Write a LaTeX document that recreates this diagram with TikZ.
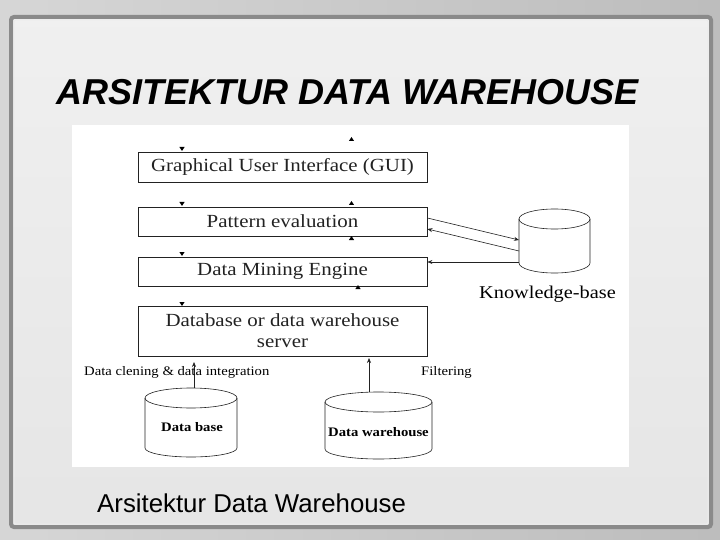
\documentclass[tikz,border=0pt]{standalone}
\usepackage{fontspec}
\setmainfont{Liberation Serif}
\newfontfamily\wideserif[FakeStretch=1.13]{Liberation Serif}
\newfontfamily\arial{Liberation Sans}
\usetikzlibrary{arrows.meta,calc}
\definecolor{bgout}{HTML}{C2C2C2}
\definecolor{panel}{HTML}{EAEAEA}
\definecolor{rim}{HTML}{8A8A8A}
\definecolor{ink}{HTML}{222222}
\tikzset{
  layer/.style={draw=ink, line width=0.8pt, minimum width=289pt, inner sep=0pt, align=center, text=ink},
  flow/.style={draw=ink, line width=0.6pt, -{Stealth[length=5pt,width=4pt]}},
  lbl/.style={inner sep=0pt, text=black},
  cyl/.style={draw=ink, line width=0.6pt}
}
\newcommand{\upTip}[2]{\fill (#1,#2) -- ++(-2.6,4) -- ++(5.2,0) -- cycle;}
\newcommand{\downTip}[2]{\fill (#1,#2) -- ++(-2.6,-4) -- ++(5.2,0) -- cycle;}
\begin{document}
\begin{tikzpicture}[x=1pt,y=-1pt]
\useasboundingbox (0,0) rectangle (720,540);
% background
\shade[left color=black!16, right color=black!26] (0,0) rectangle (720,540);
% panel
\shade[rounded corners=3pt, top color=black!6, bottom color=black!10] (11,17) rectangle (711,527);
\draw[rim, line width=4pt, rounded corners=3pt] (11,17) rectangle (711,527);
\draw[white!85!gray, line width=1pt, rounded corners=2pt] (14,20) rectangle (708,524);
% title
\node[lbl, anchor=base west, font=\arial\bfseries\itshape\fontsize{36}{42}\selectfont] (title) at (56,105) {ARSITEKTUR DATA WAREHOUSE};
% white diagram area
\fill[white] (72,125) rectangle (629,467);
% layers
\node[layer, minimum height=30pt, font=\wideserif\fontsize{18.5}{21}\selectfont] (gui) at (282.5,167) {Graphical User Interface (GUI)};
\node[layer, minimum height=29pt, font=\wideserif\fontsize{18.5}{21}\selectfont] (pe) at (282.5,221.5) {Pattern evaluation};
\node[layer, minimum height=29pt, font=\wideserif\fontsize{18.5}{21}\selectfont] (dme) at (282.5,271.5) {Data Mining Engine};
\node[layer, minimum height=50pt, font=\wideserif\fontsize{18.5}{21}\selectfont] (srv) at (282.5,331) {Database or data warehouse\\server};
% arrowheads between layers
\downTip{182}{151}
\downTip{182}{206}
\downTip{182}{256}
\downTip{182}{306}
\upTip{351.5}{137}
\upTip{351.5}{201}
\upTip{351.5}{236}
\upTip{358}{285}
% knowledge base cylinder
\node[minimum width=71pt, minimum height=54pt, inner sep=0pt] (kb) at (554.5,241) {};
\draw[cyl] (554.5,219) ellipse [x radius=35.5, y radius=10];
\draw[cyl] (519,219) -- (519,263) arc [start angle=180, end angle=0, x radius=35.5, y radius=10] -- (590,219);
\node[lbl, font=\wideserif\fontsize{18}{20}\selectfont, anchor=base] (kbl) at (547.5,298) {Knowledge-base};
% knowledge base connectors
\coordinate (pe1) at ($(pe.east)+(0,-3.5)$);
\coordinate (pe2) at ($(pe.east)+(0,7.5)$);
\coordinate (kb1) at (519,240);
\coordinate (kb2) at (519,251);
\coordinate (kb3) at (519,262);
\draw[flow] (pe1) -- (kb1);
\draw[flow] (kb2) -- (pe2);
\draw[flow] (kb3) -- (dme.east |- kb3);
% sources
\node[minimum width=92pt, minimum height=60pt, inner sep=0pt] (db) at (191,418) {};
\draw[cyl] (191,398) ellipse [x radius=46, y radius=10];
\draw[cyl] (145,398) -- (145,448) arc [start angle=180, end angle=0, x radius=46, y radius=9] -- (237,398);
\node[lbl, font=\wideserif\bfseries\fontsize{13}{15}\selectfont] at (192,427) {Data base};
\node[minimum width=107pt, minimum height=58pt, inner sep=0pt] (dw) at (378.5,431) {};
\draw[cyl] (378.5,402) ellipse [x radius=53.5, y radius=10];
\draw[cyl] (325,402) -- (325,449) arc [start angle=180, end angle=0, x radius=53.5, y radius=10] -- (432,402);
\node[lbl, font=\wideserif\bfseries\fontsize{13}{15}\selectfont] at (378.5,432) {Data warehouse};
% source connectors
\coordinate (dbt) at (194,388);
\coordinate (dwt) at (369,392);
\draw[flow] (dbt) -- (194,362);
\draw[flow] (dwt) -- (369,358);
\node[lbl, anchor=base west, font=\wideserif\fontsize{13}{15}\selectfont] (clean) at (84,375) {Data clening \& data integration};
\node[lbl, anchor=base west, font=\wideserif\fontsize{13}{15}\selectfont] (filt) at (421,375) {Filtering};
% caption
\node[lbl, anchor=base west, font=\arial\fontsize{25.8}{30}\selectfont] (cap) at (97,512) {Arsitektur Data Warehouse};
\end{tikzpicture}
\end{document}
